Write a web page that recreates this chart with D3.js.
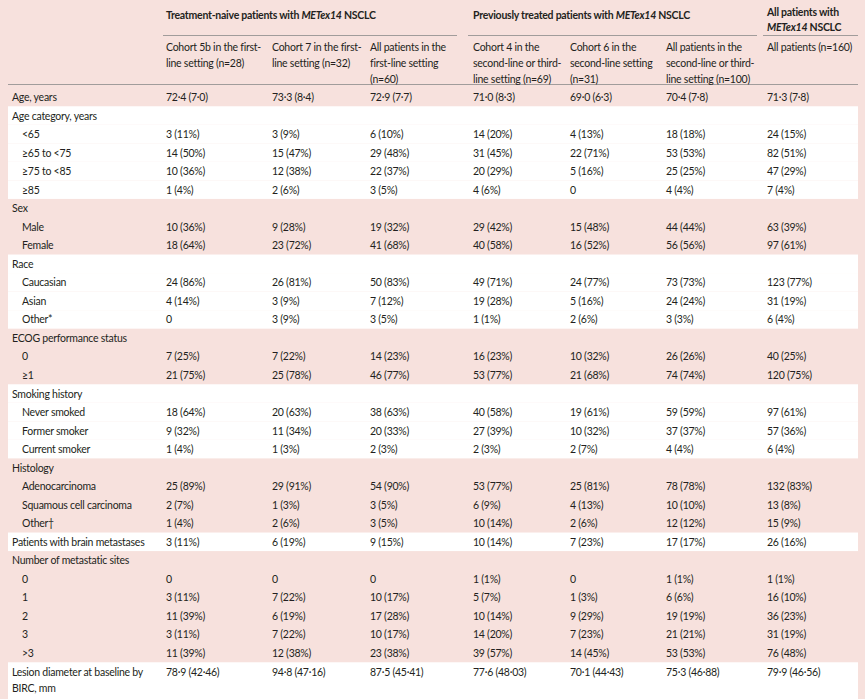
<!DOCTYPE html>
<html><head><meta charset="utf-8">
<script src="https://cdn.jsdelivr.net/npm/d3@7"></script>
<style>body{margin:0;background:#f7e1dd}svg{display:block}text{font-family:Lato,"Open Sans",sans-serif;font-size:10.5px;letter-spacing:-0.25px;fill:#231f20}</style>
</head><body><svg id="c" width="865" height="699"></svg>
<script>
const rowLabels=["Age, years","Age category, years","<65","≥65 to <75","≥75 to <85","≥85","Sex","Male","Female","Race","Caucasian","Asian","Other*","ECOG performance status","0","≥1","Smoking history","Never smoked","Former smoker","Current smoker","Histology","Adenocarcinoma","Squamous cell carcinoma","Other†","Patients with brain metastases","Number of metastatic sites","0","1","2","3",">3","Lesion diameter at baseline by"];
const indented=[2,3,4,5,7,8,10,11,12,14,15,17,18,19,21,22,23,26,27,28,29,30];
const whiteRows=[1,2,3,4,5,9,10,11,12,16,17,18,19,24,31];
const cohort5b=["72·4 (7·0)","","3 (11%)","14 (50%)","10 (36%)","1 (4%)","","10 (36%)","18 (64%)","","24 (86%)","4 (14%)","0","","7 (25%)","21 (75%)","","18 (64%)","9 (32%)","1 (4%)","","25 (89%)","2 (7%)","1 (4%)","3 (11%)","","0","3 (11%)","11 (39%)","3 (11%)","11 (39%)","78·9 (42·46)"];
const cohort7=["73·3 (8·4)","","3 (9%)","15 (47%)","12 (38%)","2 (6%)","","9 (28%)","23 (72%)","","26 (81%)","3 (9%)","3 (9%)","","7 (22%)","25 (78%)","","20 (63%)","11 (34%)","1 (3%)","","29 (91%)","1 (3%)","2 (6%)","6 (19%)","","0","7 (22%)","6 (19%)","7 (22%)","12 (38%)","94·8 (47·16)"];
const firstLine=["72·9 (7·7)","","6 (10%)","29 (48%)","22 (37%)","3 (5%)","","19 (32%)","41 (68%)","","50 (83%)","7 (12%)","3 (5%)","","14 (23%)","46 (77%)","","38 (63%)","20 (33%)","2 (3%)","","54 (90%)","3 (5%)","3 (5%)","9 (15%)","","0","10 (17%)","17 (28%)","10 (17%)","23 (38%)","87·5 (45·41)"];
const cohort4=["71·0 (8·3)","","14 (20%)","31 (45%)","20 (29%)","4 (6%)","","29 (42%)","40 (58%)","","49 (71%)","19 (28%)","1 (1%)","","16 (23%)","53 (77%)","","40 (58%)","27 (39%)","2 (3%)","","53 (77%)","6 (9%)","10 (14%)","10 (14%)","","1 (1%)","5 (7%)","10 (14%)","14 (20%)","39 (57%)","77·6 (48·03)"];
const cohort6=["69·0 (6·3)","","4 (13%)","22 (71%)","5 (16%)","0","","15 (48%)","16 (52%)","","24 (77%)","5 (16%)","2 (6%)","","10 (32%)","21 (68%)","","19 (61%)","10 (32%)","2 (7%)","","25 (81%)","4 (13%)","2 (6%)","7 (23%)","","0","1 (3%)","9 (29%)","7 (23%)","14 (45%)","70·1 (44·43)"];
const secondLine=["70·4 (7·8)","","18 (18%)","53 (53%)","25 (25%)","4 (4%)","","44 (44%)","56 (56%)","","73 (73%)","24 (24%)","3 (3%)","","26 (26%)","74 (74%)","","59 (59%)","37 (37%)","4 (4%)","","78 (78%)","10 (10%)","12 (12%)","17 (17%)","","1 (1%)","6 (6%)","19 (19%)","21 (21%)","53 (53%)","75·3 (46·88)"];
const allPatients=["71·3 (7·8)","","24 (15%)","82 (51%)","47 (29%)","7 (4%)","","63 (39%)","97 (61%)","","123 (77%)","31 (19%)","6 (4%)","","40 (25%)","120 (75%)","","97 (61%)","57 (36%)","6 (4%)","","132 (83%)","13 (8%)","15 (9%)","26 (16%)","","1 (1%)","16 (10%)","36 (23%)","31 (19%)","76 (48%)","79·9 (46·56)"];
const columns=[cohort5b,cohort7,firstLine,cohort4,cohort6,secondLine,allPatients];
const colHeaders=[["Cohort 5b in the first-","line setting (n=28)"],["Cohort 7 in the first-","line setting (n=32)"],["All patients in the","first-line setting","(n=60)"],["Cohort 4 in the","second-line or third-","line setting (n=69)"],["Cohort 6 in the","second-line setting","(n=31)"],["All patients in the","second-line or third-","line setting (n=100)"],["All patients (n=160)"]];

const svg=d3.select("#c");
const colX=d3.scaleOrdinal().domain(d3.range(7)).range([166,272,370,473,570,666,767]);
const y=d3.scaleLinear().domain([0,30]).range([97,653]);
const step=y(1)-y(0);
whiteRows.forEach(r=>{
  const h=r===31?2.15*step:step;
  svg.append("rect").attr("x",8).attr("y",y(r)-step/2).attr("width",850).attr("height",h).attr("fill","#fff");
});
const gt=[{x:166,y:[15],parts:[[["Treatment-naive patients with ",0],["METex14",1],[" NSCLC",0]]],x1:163,x2:457},
{x:473,y:[15],parts:[[["Previously treated patients with ",0],["METex14",1],[" NSCLC",0]]],x1:468,x2:757},
{x:767,y:[12,27],parts:[[["All patients with",0]],[["METex14",1],[" NSCLC",0]]],x1:763,x2:858}];
gt.forEach(g=>{
  g.parts.forEach((p,i)=>{
    const t=svg.append("text").attr("x",g.x).attr("y",g.y[i]+4).style("font-weight","bold");
    p.forEach(s=>t.append("tspan").text(s[0]).style("font-style",s[1]?"italic":"normal"));
  });
  svg.append("line").attr("x1",g.x1).attr("x2",g.x2).attr("y1",35.5).attr("y2",35.5).attr("stroke","#8a8a8a").attr("stroke-width",0.8);
});
svg.append("line").attr("x1",8).attr("x2",858).attr("y1",84.5).attr("y2",84.5).attr("stroke","#8a8a8a").attr("stroke-width",0.8);
colHeaders.forEach((h,i)=>h.forEach((l,j)=>svg.append("text").attr("x",colX(i)).attr("y",51+j*15.8).text(l)));
rowLabels.forEach((l,r)=>{
  svg.append("text").attr("x",indented.includes(r)?22:12).attr("y",y(r)+4).text(l);
});
svg.append("text").attr("x",12).attr("y",y(31)+4+16).text("BIRC, mm");
columns.forEach((col,i)=>col.forEach((v,r)=>{
  if(v) svg.append("text").attr("x",colX(i)).attr("y",y(r)+4).text(v);
}));
</script></body></html>
